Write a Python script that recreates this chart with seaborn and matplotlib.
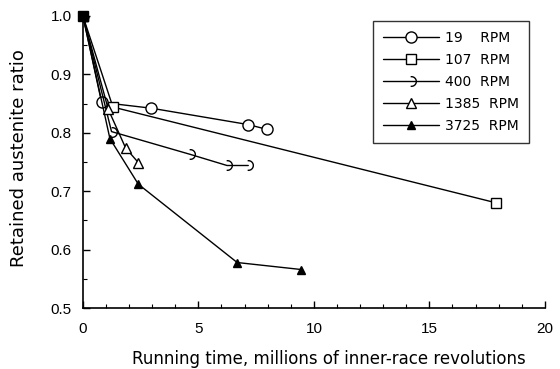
import numpy as np
import matplotlib
matplotlib.use("Agg")
import matplotlib.pyplot as plt
from matplotlib.path import Path
from matplotlib.ticker import MultipleLocator
import seaborn as sns

# Retained austenite ratio vs running time for each shaft speed
rpm_labels = ["19    RPM", "107  RPM", "400  RPM", "1385  RPM", "3725  RPM"]

x_19 = [0.0, 0.81, 2.97, 7.16, 7.95]
y_19 = [1.0, 0.852, 0.842, 0.814, 0.806]

x_107 = [0.0, 1.3, 17.9]
y_107 = [1.0, 0.844, 0.680]

x_400 = [0.0, 1.24, 4.65, 6.24, 7.16]
y_400 = [1.0, 0.802, 0.763, 0.744, 0.744]

x_1385 = [0.0, 1.1, 1.85, 2.4]
y_1385 = [1.0, 0.84, 0.774, 0.749]

x_3725 = [0.0, 1.17, 2.4, 6.68, 9.46]
y_3725 = [1.0, 0.79, 0.712, 0.578, 0.566]

x_ticks = [0, 5, 10, 15, 20]
y_ticks = [0.5, 0.6, 0.7, 0.8, 0.9, 1.0]

sns.set_theme(style="ticks")
plt.rcParams["font.family"] = ["Liberation Sans", "DejaVu Sans"]
plt.rcParams["text.color"] = "black"
plt.rcParams["axes.labelcolor"] = "black"

half_circle = Path.arc(-100, 100)

series = [
    (x_19, y_19, "o", 8, "white"),
    (x_107, y_107, "s", 6.5, "white"),
    (x_400, y_400, half_circle, 7, "none"),
    (x_1385, y_1385, "^", 6.5, "white"),
    (x_3725, y_3725, "^", 6, "black"),
]

fig = plt.figure(figsize=(5.6, 3.69), dpi=100)
ax = fig.add_axes([0.148, 0.165, 0.825, 0.792])

for (xs, ys, mk, ms, fc), lab in zip(series, rpm_labels):
    sns.lineplot(x=xs, y=ys, ax=ax, color="black", linewidth=1.0,
                 marker=mk, markersize=ms, markerfacecolor=fc,
                 markeredgecolor="black", markeredgewidth=1.0,
                 label=lab, sort=False, estimator=None)

# starting point drawn as a filled square
ax.plot([0], [1.0], marker="s", markersize=7, color="black", zorder=5,
        clip_on=False)

ax.set_xlim(0, 20)
ax.set_ylim(0.5, 1.0)
ax.set_xticks(x_ticks)
ax.set_yticks(y_ticks)
ax.set_xticklabels([str(t) for t in x_ticks])
ax.set_yticklabels([f"{t:.1f}" for t in y_ticks])
ax.xaxis.set_minor_locator(MultipleLocator(1))
ax.yaxis.set_minor_locator(MultipleLocator(0.05))
ax.tick_params(axis="both", which="major", direction="in", length=5,
               width=1, labelsize=11, pad=8, colors="black")
ax.tick_params(axis="x", which="major", pad=10)
ax.tick_params(axis="both", which="minor", direction="in", length=3,
               width=0.8, colors="black")

for side in ("top", "right"):
    ax.spines[side].set_visible(False)
for side in ("left", "bottom"):
    ax.spines[side].set_color("black")
    ax.spines[side].set_linewidth(1.2)

ax.set_xlabel("Running time, millions of inner-race revolutions",
              fontsize=12, family="DejaVu Sans", color="black")
ax.set_ylabel("Retained austenite ratio", fontsize=13,
              family="DejaVu Sans", color="black")
ax.xaxis.set_label_coords(0.532, -0.142)
ax.yaxis.set_label_coords(-0.118, 0.514)

leg = ax.legend(loc="upper right", bbox_to_anchor=(0.965, 0.983),
                frameon=True, fancybox=False, edgecolor="black",
                prop={"family": "DejaVu Sans", "size": 10},
                handlelength=4.0, handletextpad=0.45,
                labelspacing=0.58, borderpad=0.7, borderaxespad=0.0,
                labelcolor="black")
leg.get_frame().set_linewidth(1.0)

fig.savefig("out.png", dpi=100, facecolor="white")
